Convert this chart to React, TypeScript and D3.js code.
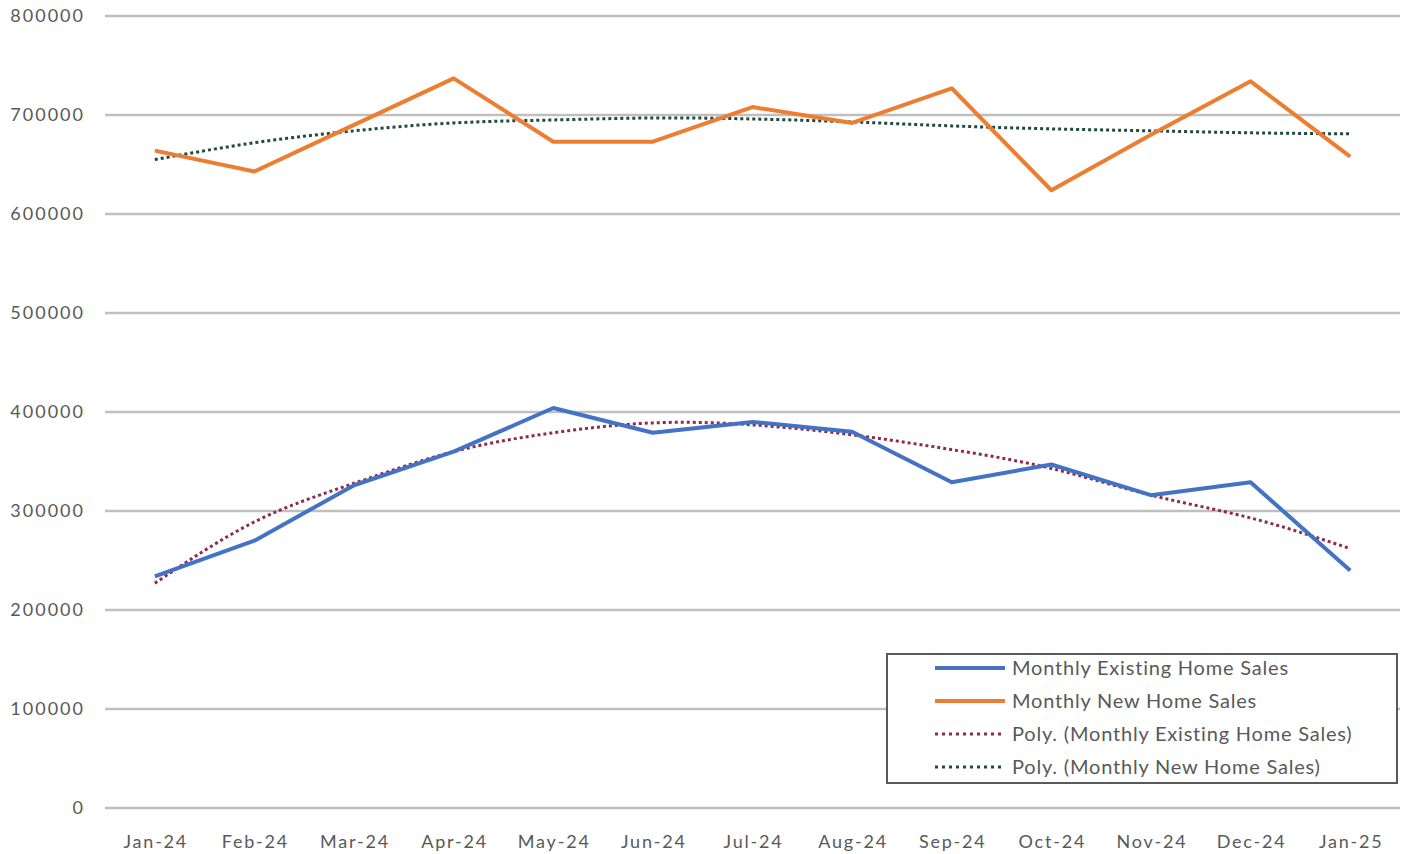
import React from 'react';
import * as d3 from 'd3';

const months = ['Jan-24', 'Feb-24', 'Mar-24', 'Apr-24', 'May-24', 'Jun-24', 'Jul-24', 'Aug-24', 'Sep-24', 'Oct-24', 'Nov-24', 'Dec-24', 'Jan-25'];
const existingSales = [234000, 270000, 326000, 360000, 404000, 379000, 390000, 380000, 329000, 347000, 316000, 329000, 240000];
const newSales = [664000, 643000, 690000, 737000, 673000, 673000, 708000, 692000, 727000, 624000, 680000, 734000, 658000];
// trendline values at each month
const existingTrend = [227000, 289000, 328000, 360000, 379000, 389000, 387000, 377000, 362000, 343000, 316000, 293000, 262000];
const newTrend = [655000, 672000, 684000, 692000, 695000, 697000, 696000, 693000, 689000, 686000, 684000, 682000, 681000];
const yTicks = [0, 100000, 200000, 300000, 400000, 500000, 600000, 700000, 800000];

const width = 1411;
const height = 854;
const left = 105;
const right = 1400;
const top = 16;
const bottom = 808;
const font = 'Lato, "Open Sans", sans-serif';
const textColor = '#595959';

const legendItems = [
  { label: 'Monthly Existing Home Sales', color: '#4472C4', dotted: false },
  { label: 'Monthly New Home Sales', color: '#ED7D31', dotted: false },
  { label: 'Poly. (Monthly Existing Home Sales)', color: '#8E2A4B', dotted: true },
  { label: 'Poly. (Monthly New Home Sales)', color: '#1F4B3E', dotted: true },
];

export default function App() {
  const x = d3.scalePoint<string>().domain(months).range([left, right]).padding(0.5);
  const y = d3.scaleLinear().domain([0, 800000]).range([bottom, top]);

  const line = d3
    .line<number>()
    .x((d, i) => x(months[i]) as number)
    .y(d => y(d));
  const trend = d3
    .line<number>()
    .x((d, i) => x(months[i]) as number)
    .y(d => y(d))
    .curve(d3.curveNatural);

  return (
    <svg
      width={width}
      height={height}
      style={{ position: 'absolute', left: 0, top: 0, background: '#fff' }}
      fontFamily={font}
    >
      {yTicks.map(t => (
        <g key={t}>
          <line x1={left} x2={right} y1={y(t)} y2={y(t)} stroke="#BFBFBF" strokeWidth={2.5} />
          <text x={85} y={y(t)} dy="0.35em" textAnchor="end" fontSize={18} letterSpacing={2} fill={textColor}>
            {t}
          </text>
        </g>
      ))}
      {months.map(m => (
        <text key={m} x={(x(m) as number) + 1} y={842} dy="0.35em" textAnchor="middle" fontSize={18} letterSpacing={1.8} fill={textColor}>
          {m}
        </text>
      ))}

      <path d={trend(existingTrend) || ''} fill="none" stroke="#8E2A4B" strokeWidth={3} strokeDasharray="3,3" />
      <path d={trend(newTrend) || ''} fill="none" stroke="#1F4B3E" strokeWidth={3} strokeDasharray="3,3" />
      <path d={line(existingSales) || ''} fill="none" stroke="#4472C4" strokeWidth={4} strokeLinejoin="round" />
      <path d={line(newSales) || ''} fill="none" stroke="#ED7D31" strokeWidth={4} strokeLinejoin="round" />

      <g>
        <rect x={887} y={654} width={510} height={129} fill="#fff" stroke="#595959" strokeWidth={2} />
        {legendItems.map((d, i) => {
          const ly = 668 + i * 33;
          return (
            <g key={d.label}>
              <line
                x1={935}
                x2={1005}
                y1={ly}
                y2={ly}
                stroke={d.color}
                strokeWidth={d.dotted ? 3 : 4}
                strokeDasharray={d.dotted ? '3,4' : undefined}
              />
              <text x={1012} y={ly} dy="0.35em" fontSize={20} letterSpacing={0.8} fill={textColor}>
                {d.label}
              </text>
            </g>
          );
        })}
      </g>
    </svg>
  );
}
